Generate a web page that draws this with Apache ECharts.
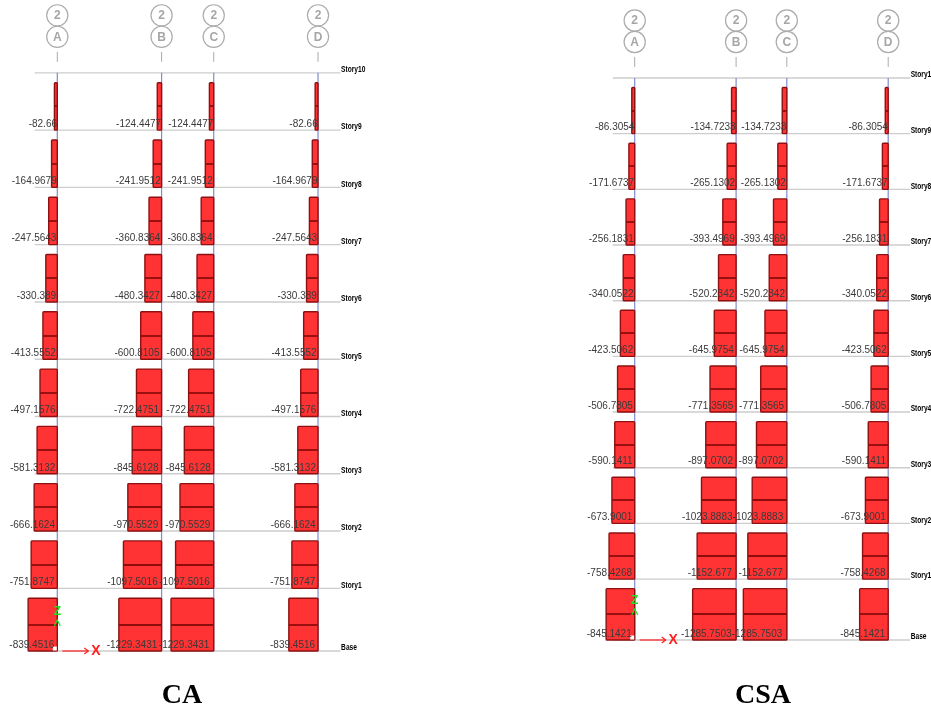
<!DOCTYPE html>
<html>
<head>
<meta charset="utf-8">
<style>
html,body{margin:0;padding:0;background:#fff;}
#c{width:931px;height:710px;overflow:hidden;filter:blur(0.35px);}
</style>
<script src="https://cdn.jsdelivr.net/npm/echarts@6/dist/echarts.min.js"></script>
</head>
<body>
<div id="c"></div>
<script>
// Shear per storey, top (Story9) to bottom (Base)
const caA  = [-82.66,-164.9679,-247.5643,-330.389,-413.5552,-497.1576,-581.3132,-666.1624,-751.8747,-839.4516];
const caB  = [-124.4477,-241.9512,-360.8364,-480.3427,-600.8105,-722.4751,-845.6128,-970.5529,-1097.5016,-1229.3431];
const caC  = [-124.4477,-241.9512,-360.8364,-480.3427,-600.8105,-722.4751,-845.6128,-970.5529,-1097.5016,-1229.3431];
const caD  = [-82.66,-164.9679,-247.5643,-330.389,-413.5552,-497.1576,-581.3132,-666.1624,-751.8747,-839.4516];
const csaA = [-86.3054,-171.6737,-256.1831,-340.0522,-423.5062,-506.7805,-590.1411,-673.9001,-758.4268,-845.1421];
const csaB = [-134.7233,-265.1302,-393.4969,-520.2342,-645.9754,-771.3565,-897.0702,-1023.8883,-1152.677,-1285.7503];
const csaC = [-134.7233,-265.1302,-393.4969,-520.2342,-645.9754,-771.3565,-897.0702,-1023.8883,-1152.677,-1285.7503];
const csaD = [-86.3054,-171.6737,-256.1831,-340.0522,-423.5062,-506.7805,-590.1411,-673.9001,-758.4268,-845.1421];

const gridLetters = ['A','B','C','D'];
const gridX = [0,6,9,15];                 // grid line position, m
const stories = ['Story10','Story9','Story8','Story7','Story6','Story5','Story4','Story3','Story2','Story1','Base'];
const elevations = [32.3,29.1,25.9,22.7,19.5,16.3,13.1,9.9,6.7,3.5,0]; // m
const panelTitles = ['CA','CSA'];

const metresPerUnit = 0.002;   // diagram scale
const barGap = 0.55;           // gap below the storey above, m
const lineFrom = -1.3, lineTo = 16.3;

const RED='#ff3333', EDGE='#8f1010', MID='#8f0c0c', GREY='#cdcdcd', BLUE='#7f8ccb', BUBBLE='#ababab', GREEN='#22e022', AXISRED='#ff2020';

function panelSeries(i, cols){
  const storyRows = stories.map((s,k)=>[lineFrom, elevations[k], s]);
  const colRows = gridX.map((x,c)=>[x, gridLetters[c]]);
  const barRows = [], labelRows = [];
  cols.forEach((vals,c)=>vals.forEach((v,k)=>{
    barRows.push([gridX[c], elevations[k+1], elevations[k]-barGap, v]);
    labelRows.push([gridX[c], elevations[k+1], v]);
  }));
  const base = {type:'custom',xAxisIndex:i,yAxisIndex:i,silent:true,animation:false};
  return [
    {...base,name:'stories',z:2,data:storyRows,encode:{x:0,y:1},renderItem(p,api){
      const a=api.coord([api.value(0),api.value(1)]), b=api.coord([lineTo,api.value(1)]);
      return {type:'group',children:[
        {type:'line',shape:{x1:a[0],y1:a[1],x2:b[0],y2:b[1]},style:{stroke:GREY,lineWidth:1.4}},
        {type:'text',x:b[0]+0.5,y:b[1]-3,scaleX:0.78,style:{text:stories[p.dataIndex],x:0,y:0,fill:'#000',fontFamily:'Liberation Sans',fontWeight:'bold',fontSize:8.5,align:'left',verticalAlign:'middle'}}
      ]};
    }},
    {...base,name:'grid lines',z:3,data:colRows,encode:{x:0},renderItem(p,api){
      const x=api.value(0);
      const t=api.coord([x,elevations[0]]), b=api.coord([x,0]);
      const lab=gridLetters[p.dataIndex];
      const bubble=(dy,txt)=>[
        {type:'circle',shape:{cx:t[0],cy:t[1]+dy,r:10.6},style:{fill:'#fff',stroke:BUBBLE,lineWidth:1.2}},
        {type:'text',style:{text:txt,x:t[0],y:t[1]+dy+0.5,fill:'#a6a6a6',fontFamily:'Liberation Sans',fontWeight:'bold',fontSize:12,align:'center',verticalAlign:'middle'}}
      ];
      return {type:'group',children:[
        {type:'line',shape:{x1:t[0],y1:t[1],x2:b[0],y2:b[1]},style:{stroke:BLUE,lineWidth:1.2}},
        {type:'line',shape:{x1:t[0],y1:t[1]-21,x2:t[0],y2:t[1]-11},style:{stroke:BUBBLE,lineWidth:1}},
        ...bubble(-57.5,'2'),...bubble(-36,lab)
      ]};
    }},
    {...base,name:'bars',z:4,data:barRows,encode:{x:0,y:1},renderItem(p,api){
      const x=api.value(0), lo=api.value(1), hi=api.value(2), v=api.value(3);
      const r=api.coord([x,lo]), l=api.coord([x+v*metresPerUnit,hi]);
      const midY=Math.round((r[1]+l[1])/2);
      return {type:'group',children:[
        {type:'rect',shape:{x:l[0],y:l[1],width:r[0]-l[0],height:r[1]-l[1],r:0.8},style:{fill:RED,stroke:EDGE,lineWidth:1.4}},
        {type:'line',shape:{x1:l[0],y1:midY,x2:r[0],y2:midY},style:{stroke:MID,lineWidth:1.8}}
      ]};
    }},
    {...base,name:'labels',z:6,data:labelRows,encode:{x:0,y:1},renderItem(p,api){
      const c=api.coord([api.value(0),api.value(1)]), v=api.value(2);
      const off=Math.abs(v)*0.0035;
      return {type:'text',style:{text:String(v),x:c[0]-off,y:c[1]-6,fill:'#3a3a3a',fontFamily:'Liberation Sans',fontSize:10,align:'right',verticalAlign:'middle'}};
    }},
    {...base,name:'axes',z:5,data:[[gridX[0],0]],encode:{x:0,y:1},renderItem(p,api){
      const o=api.coord([api.value(0),api.value(1)]);
      const ox=o[0], oy=o[1];
      return {type:'group',children:[
        {type:'rect',shape:{x:ox-4.5,y:oy-4.5,width:4,height:4},style:{fill:'#fff'}},
        {type:'polyline',shape:{points:[[ox+5,oy],[ox+31,oy]]},style:{stroke:AXISRED,lineWidth:1.2,fill:null}},
        {type:'polyline',shape:{points:[[ox+27,oy-3],[ox+31,oy],[ox+27,oy+3]]},style:{stroke:AXISRED,lineWidth:1.2,fill:null}},
        {type:'text',style:{text:'X',x:ox+38.5,y:oy,fill:AXISRED,fontFamily:'Liberation Sans',fontWeight:'bold',fontSize:14,align:'center',verticalAlign:'middle'}},
        {type:'text',style:{text:'Z',x:ox,y:oy-39,fill:GREEN,fontFamily:'Liberation Sans',fontWeight:'bold',fontSize:12,align:'center',verticalAlign:'middle'}},
        {type:'polyline',shape:{points:[[ox-3,oy-25],[ox,oy-31],[ox+3,oy-25]]},style:{stroke:GREEN,lineWidth:1.2,fill:null}}
      ]};
    }}
  ];
}

const option={
  animation:false,
  backgroundColor:'#fff',
  title:panelTitles.map((t,i)=>({text:t,left:[182,763][i],top:682,padding:0,textAlign:'center',
    textStyle:{fontFamily:'Liberation Serif',fontWeight:'bold',fontSize:28,color:'#000'}})),
  grid:[
    {left:5.16,top:6.6,width:365,height:662.3},
    {left:584,top:13.6,width:338,height:643.8}
  ],
  xAxis:[0,1].map(i=>({type:'value',gridIndex:i,min:-3,max:i?17:18,show:false})),
  yAxis:[0,1].map(i=>({type:'value',gridIndex:i,min:-1,max:36,show:false})),
  series:[...panelSeries(0,[caA,caB,caC,caD]),...panelSeries(1,[csaA,csaB,csaC,csaD])]
};
echarts.init(document.getElementById('c')).setOption(option);
</script>
</body>
</html>
